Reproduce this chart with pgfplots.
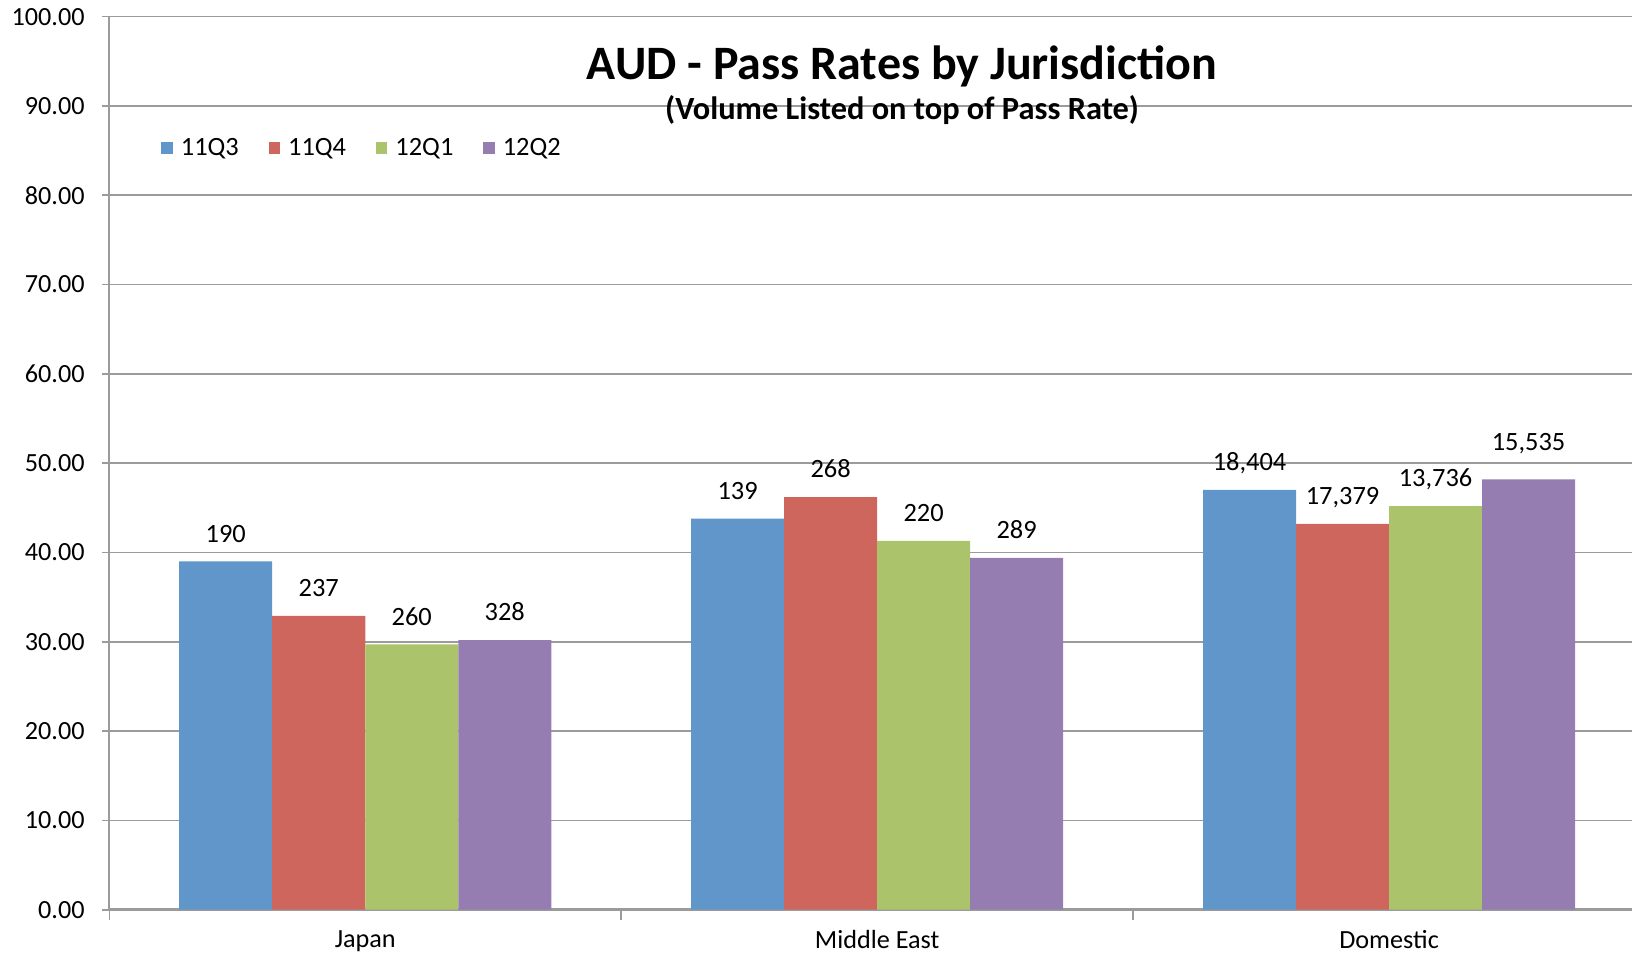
\documentclass[border=0pt]{standalone}
\usepackage{pgfplots}
\usepackage{pgfplotstable}
\pgfplotsset{compat=1.18}
\usepackage{fontspec}
\setmainfont{Carlito}
\definecolor{cA}{RGB}{96,150,201}
\definecolor{cB}{RGB}{206,102,94}
\definecolor{cC}{RGB}{171,196,108}
\definecolor{cD}{RGB}{149,124,177}
\definecolor{gridc}{RGB}{155,155,155}

\pgfplotstableread{
x y lab dy
0 39.0 190 0
1 43.8 139 0
2 47.0 18,404 0
}\tA
\pgfplotstableread{
x y lab dy
0 32.9 237 0
1 46.2 268 0
2 43.2 17,379 0
}\tB
\pgfplotstableread{
x y lab dy
0 29.7 260 0
1 41.3 220 0
2 45.2 13,736 0
}\tC
\pgfplotstableread{
x y lab dy
0 30.2 328 0
1 39.4 289 0
2 48.2 15,535 4.5
}\tD

\begin{document}
\begin{tikzpicture}
\useasboundingbox (0,0) rectangle (816pt,477pt);
\begin{axis}[
  at={(54.65pt,22.15pt)}, anchor=south west,
  scale only axis, width=761.35pt, height=446.5pt,
  xmin=-0.5, xmax=2.4746, ymin=0, ymax=100,
  ybar=0pt, bar width=0.1817,
  axis x line=bottom, axis y line=left,
  axis line style={-, draw=gridc, line width=0.9pt},
  every outer x axis line/.append style={line width=1.3pt},
  tick align=outside,
  ytick={0,10,...,100},
  yticklabel style={/pgf/number format/.cd, fixed, fixed zerofill, precision=2, assume math mode=true, /tikz/.cd, xshift=-5pt},
  ytick style={draw=gridc, line width=0.8pt},
  major tick length=3.8pt,
  ymajorgrids, grid style={draw=gridc, line width=0.8pt},
  xtick={0,1,2},
  xticklabels={Japan, Middle East, Domestic},
  major x tick style={draw=none},
  minor xtick={-0.5,0.5,1.5},
  minor x tick style={draw=gridc, line width=0.8pt},
  minor tick length=5pt,
  ticklabel style={font=\fontsize{13.1}{15.5}\selectfont},
  xticklabel style={yshift=-3pt},
  nodes near coords,
  point meta=explicit symbolic,
  visualization depends on={\thisrow{dy} \as \dy},
  every node near coord/.append style={font=\fontsize{13.2}{15.5}\selectfont, text depth=0pt, inner sep=0pt, anchor=base, yshift=9.7pt+\dy pt, black},
  legend columns=4,
  legend style={draw=none, fill=none, at={(0.034,0.853)}, anchor=west, inner sep=0pt,
    font=\fontsize{13.2}{15.5}\selectfont,
    /tikz/every odd column/.append style={column sep=2pt},
    /tikz/every even column/.append style={column sep=13pt}},
  legend image code/.code={\fill[#1] (0pt,-2.85pt) rectangle (5.7pt,2.85pt);},
]
\addplot[fill=cA, draw=none] table[x=x,y=y,meta=lab] {\tA};
\addplot[fill=cB, draw=none] table[x=x,y=y,meta=lab] {\tB};
\addplot[fill=cC, draw=none] table[x=x,y=y,meta=lab] {\tC};
\addplot[fill=cD, draw=none] table[x=x,y=y,meta=lab] {\tD};
\legend{11Q3, 11Q4, 12Q1, 12Q2}
\end{axis}
\node[font=\bfseries\fontsize{24}{28}\selectfont, anchor=base] at (451pt,437pt) {AUD - Pass Rates by Jurisdiction};
\node[font=\bfseries\fontsize{16.2}{19}\selectfont, anchor=base] at (451pt,417.2pt) {(Volume Listed on top of Pass Rate)};
\end{tikzpicture}
\end{document}
